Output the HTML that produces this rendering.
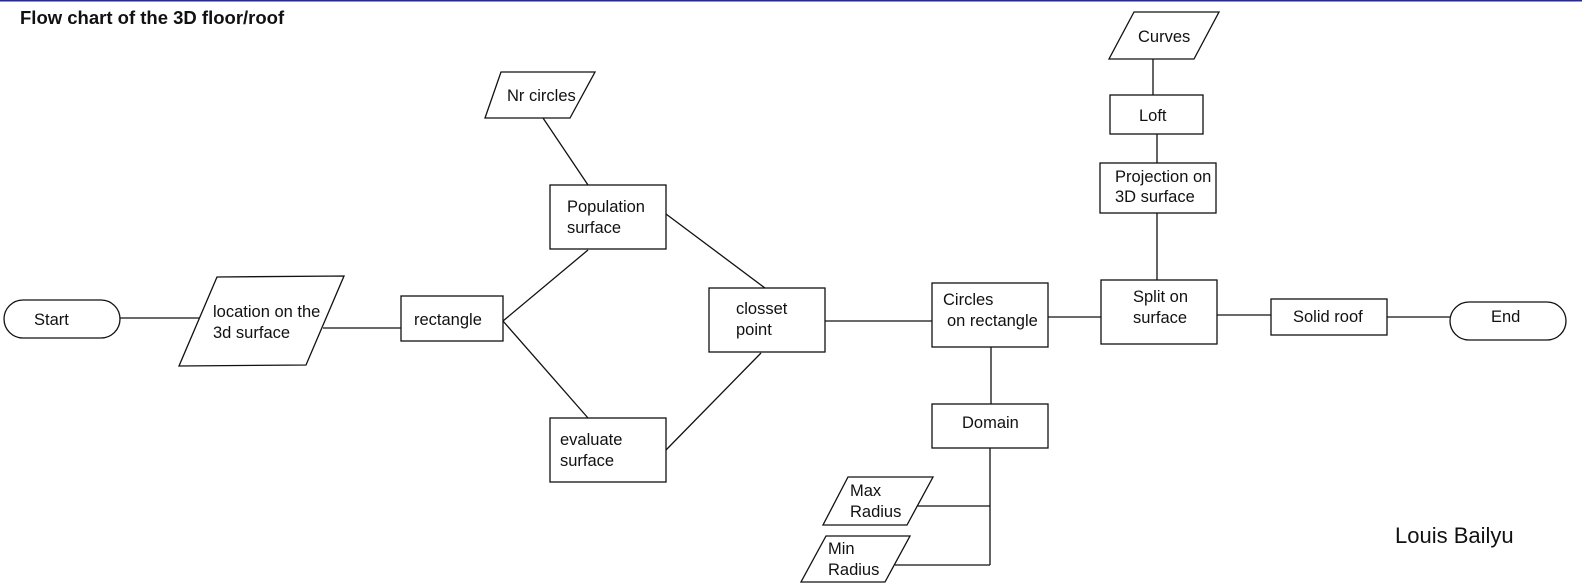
<!DOCTYPE html>
<html><head><meta charset="utf-8"><style>
html,body{margin:0;padding:0;background:#fff;}
svg{display:block;}
text{font-family:"Liberation Sans",sans-serif;font-size:16.5px;fill:#111;}
</style></head><body>
<svg width="1582" height="587" viewBox="0 0 1582 587" xmlns="http://www.w3.org/2000/svg">
<rect x="0" y="0" width="1582" height="1.5" fill="#2a2a8a"/>
<text x="20" y="24" style="font-weight:bold;font-size:18.5px">Flow chart of the 3D floor/roof</text>
<g fill="none" stroke="#111" stroke-width="1.3">
<rect x="4" y="300" width="116" height="38" rx="19"/>
<polygon points="217,277 344,276 306,365 179,366"/>
<line x1="120" y1="318" x2="199" y2="318"/>
<line x1="323" y1="328" x2="401" y2="328"/>
<rect x="401" y="296" width="102" height="45"/>
<line x1="503" y1="321" x2="588" y2="250"/>
<line x1="503" y1="321" x2="588" y2="418"/>
<polygon points="501,72 595,72 570,118 485,118"/>
<line x1="543" y1="118" x2="588" y2="185"/>
<rect x="550" y="185" width="116" height="64"/>
<line x1="666" y1="214" x2="765" y2="288"/>
<rect x="550" y="418" width="116" height="64"/>
<line x1="666" y1="450" x2="761" y2="353"/>
<rect x="709" y="288" width="116" height="64"/>
<line x1="825" y1="321" x2="932" y2="321"/>
<rect x="932" y="283" width="116" height="64"/>
<line x1="1048" y1="317" x2="1101" y2="317"/>
<rect x="1101" y="280" width="116" height="64"/>
<line x1="1217" y1="315" x2="1271" y2="315"/>
<rect x="1271" y="299" width="116" height="36"/>
<line x1="1387" y1="317" x2="1450" y2="317"/>
<rect x="1450" y="302" width="116" height="38" rx="19"/>
<line x1="991" y1="347" x2="991" y2="404"/>
<rect x="932" y="404" width="116" height="44"/>
<line x1="990" y1="448" x2="990" y2="565"/>
<polygon points="848,477 933,477 907,525 823,525"/>
<line x1="917" y1="506" x2="990" y2="506"/>
<polygon points="826,536 910,536 885,582 801,582"/>
<line x1="895" y1="565" x2="990" y2="565"/>
<line x1="1157" y1="213" x2="1157" y2="280"/>
<rect x="1100" y="163" width="116" height="50"/>
<line x1="1157" y1="134" x2="1157" y2="163"/>
<rect x="1110" y="95" width="93" height="39"/>
<line x1="1153" y1="59" x2="1153" y2="95"/>
<polygon points="1134,12 1219,12 1194,59 1109,59"/>
</g>
<text x="34" y="325">Start</text>
<text x="213" y="317">location on the</text>
<text x="213" y="338">3d surface</text>
<text x="414" y="325">rectangle</text>
<text x="507" y="101">Nr circles</text>
<text x="567" y="212">Population</text>
<text x="567" y="233">surface</text>
<text x="560" y="445">evaluate</text>
<text x="560" y="466">surface</text>
<text x="736" y="314">closset</text>
<text x="736" y="335">point</text>
<text x="943" y="305">Circles</text>
<text x="947" y="326">on rectangle</text>
<text x="1133" y="302">Split on</text>
<text x="1133" y="323">surface</text>
<text x="1293" y="322">Solid roof</text>
<text x="1491" y="322">End</text>
<text x="962" y="428">Domain</text>
<text x="850" y="496">Max</text>
<text x="850" y="517">Radius</text>
<text x="828" y="554">Min</text>
<text x="828" y="575">Radius</text>
<text x="1115" y="182">Projection on</text>
<text x="1115" y="202">3D surface</text>
<text x="1139" y="121">Loft</text>
<text x="1138" y="42">Curves</text>
<text x="1395" y="543" style="font-size:22px">Louis Bailyu</text>
</svg>
</body></html>
